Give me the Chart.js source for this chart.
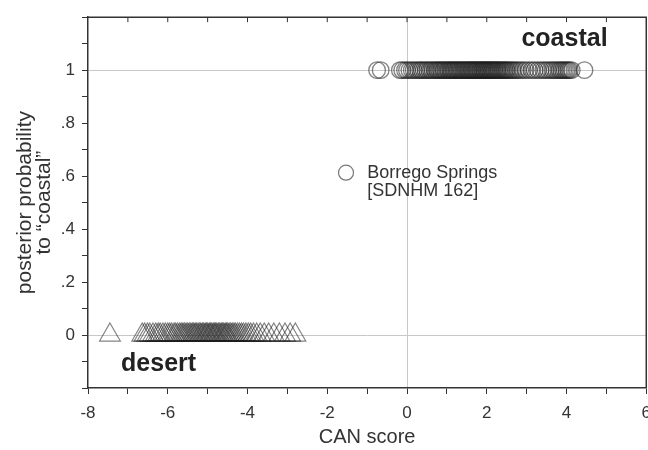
<!DOCTYPE html>
<html>
<head>
<meta charset="utf-8">
<script src="https://cdn.jsdelivr.net/npm/chart.js@4.4.1/dist/chart.umd.min.js"></script>
<style>
  body { margin: 0; overflow: hidden; background: #fff; }
  canvas { display: block; }
</style>
</head>
<body>
<canvas id="chart" width="660" height="450"></canvas>
<script>
// CAN scores (dense runs estimated)
var coastalX = [-0.75, -0.66,
  -0.18, -0.12, -0.05, 0.0, 0.06, 0.12, 0.17, 0.23, 0.28, 0.33, 0.37, 0.42, 0.47, 0.51,
  0.56, 0.6, 0.64, 0.69, 0.72, 0.76, 0.79, 0.83, 0.86, 0.9, 0.93, 0.96, 1.0, 1.03,
  1.06, 1.09, 1.12, 1.15, 1.18, 1.21, 1.24, 1.27, 1.3, 1.33, 1.36, 1.39, 1.42, 1.45,
  1.48, 1.51, 1.54, 1.56, 1.59, 1.62, 1.64, 1.67, 1.7, 1.72, 1.75, 1.77, 1.8, 1.83,
  1.85, 1.88, 1.9, 1.93, 1.95, 1.98, 2.0, 2.03, 2.05, 2.08, 2.1, 2.13, 2.15, 2.18,
  2.2, 2.23, 2.26, 2.28, 2.31, 2.34, 2.37, 2.4, 2.43, 2.46, 2.49, 2.52, 2.56, 2.6,
  2.64, 2.68, 2.73, 2.78, 2.84, 2.9, 2.97, 3.05, 3.13, 3.2, 3.28, 3.35, 3.42, 3.48,
  3.54, 3.6, 3.65, 3.7, 3.75, 3.8, 3.84, 3.88, 3.92, 3.96, 4.0, 4.04, 4.08, 4.13,
  4.45];
var coastalP = 1;

var desertX = [-7.45,
  -6.64, -6.58, -6.51, -6.45, -6.37, -6.3, -6.24, -6.19, -6.12, -6.06, -6.0, -5.95,
  -5.9, -5.84, -5.8, -5.75, -5.7, -5.66, -5.62, -5.58, -5.54, -5.5, -5.46, -5.42,
  -5.38, -5.35, -5.31, -5.28, -5.24, -5.2, -5.17, -5.13, -5.1, -5.06, -5.03, -5.0,
  -4.96, -4.93, -4.9, -4.86, -4.83, -4.8, -4.77, -4.73, -4.7, -4.66, -4.63, -4.6,
  -4.56, -4.53, -4.5, -4.46, -4.42, -4.38, -4.34, -4.3, -4.25, -4.2, -4.15, -4.1,
  -4.04, -3.98, -3.92, -3.85, -3.77, -3.68, -3.58, -3.47, -3.34, -3.2, -3.06, -2.93,
  -2.8];
var desertP = 0;

var borregoX = [-1.53];
var borregoP = [0.613];

var xTickLabels = ['-8', '-6', '-4', '-2', '0', '2', '4', '6'];
var yTickLabels = ['0', '.2', '.4', '.6', '.8', '1'];

var ink = '#333';
var markStroke = 'rgba(30,30,30,0.55)';
var gridGray = '#c8c8c8';
var fontFam = '"Liberation Sans", Arial, sans-serif';

function isNear(a, b) { return Math.abs(a - b) < 1e-6; }

var extras = {
  id: 'extras',
  afterDraw: function (chart) {
    var c = chart.ctx, a = chart.chartArea;
    var xs = chart.scales.x, ys = chart.scales.y;
    c.save();
    // top and right frame
    c.strokeStyle = ink;
    c.lineWidth = 1.5;
    c.beginPath();
    c.moveTo(a.left, a.top);
    c.lineTo(a.right, a.top);
    c.lineTo(a.right, a.bottom);
    c.stroke();
    // inward ticks on top
    c.lineWidth = 1;
    for (var v = -7; v <= 5; v++) {
      var px = xs.getPixelForValue(v);
      c.beginPath();
      c.moveTo(px, a.top);
      c.lineTo(px, a.top + 5);
      c.stroke();
    }
    // group labels
    c.fillStyle = '#222';
    c.font = 'bold 25px ' + fontFam;
    c.textAlign = 'center';
    c.textBaseline = 'middle';
    c.fillText('coastal', xs.getPixelForValue(3.95), ys.getPixelForValue(1.117));
    c.fillText('desert', xs.getPixelForValue(-6.23), ys.getPixelForValue(-0.109));
    // specimen label
    c.fillStyle = ink;
    c.font = '18px ' + fontFam;
    c.textAlign = 'left';
    var lx = xs.getPixelForValue(-1.0), ly = ys.getPixelForValue(borregoP[0]);
    c.fillText('Borrego Springs', lx, ly);
    c.fillText('[SDNHM 162]', lx, ly + 18);
    c.restore();
  }
};

var chart = document.getElementById('chart');
var ctx = new Chart(chart, {
  type: 'scatter',
  data: {
    datasets: [{
      label: 'coastal',
      data: coastalX.map(function (x) { return { x: x, y: coastalP }; }),
      pointStyle: 'circle',
      pointRadius: 8.3,
      backgroundColor: 'rgba(0,0,0,0)',
      borderColor: markStroke,
      borderWidth: 1.3
    }, {
      label: 'desert',
      data: desertX.map(function (x) { return { x: x, y: desertP }; }),
      pointStyle: 'triangle',
      pointRadius: 12,
      backgroundColor: 'rgba(0,0,0,0)',
      borderColor: markStroke,
      borderWidth: 1.2
    }, {
      label: 'Borrego Springs',
      data: borregoX.map(function (x, i) { return { x: x, y: borregoP[i] }; }),
      pointStyle: 'circle',
      pointRadius: 7.5,
      backgroundColor: 'rgba(0,0,0,0)',
      borderColor: 'rgba(30,30,30,0.6)',
      borderWidth: 1.2
    }]
  },
  options: {
    responsive: false,
    animation: false,
    layout: { padding: { top: 14, right: 13, left: 0, bottom: 0 } },
    plugins: { legend: { display: false }, tooltip: { enabled: false } },
    scales: {
      x: {
        min: -8, max: 6,
        afterFit: function (s) { s.height = 62; },
        border: { color: ink, width: 1.5 },
        grid: {
          color: function (c) { return c.tick && isNear(c.tick.value, 0) ? gridGray : 'rgba(0,0,0,0)'; },
          tickColor: ink, tickLength: 6, lineWidth: 1
        },
        ticks: {
          stepSize: 1, autoSkip: false, maxRotation: 0, padding: 9,
          color: ink, font: { family: fontFam, size: 17 },
          callback: function (v) {
            var r = Math.round(v);
            return r % 2 === 0 ? xTickLabels[(r + 8) / 2] : '';
          }
        },
        title: {
          display: true, text: 'CAN score', color: ink,
          font: { family: fontFam, size: 20, lineHeight: 1 },
          padding: { top: 0, bottom: 3 }
        }
      },
      y: {
        min: -0.2, max: 1.2,
        afterFit: function (s) { s.width = 88; },
        border: { color: ink, width: 1.5 },
        grid: {
          color: function (c) {
            return c.tick && (isNear(c.tick.value, 0) || isNear(c.tick.value, 1)) ? gridGray : 'rgba(0,0,0,0)';
          },
          tickColor: ink, tickLength: 6, lineWidth: 1
        },
        ticks: {
          stepSize: 0.1, autoSkip: false, padding: 7,
          color: ink, font: { family: fontFam, size: 17 },
          callback: function (v) {
            var r = Math.round(v * 10);
            return (r >= 0 && r <= 10 && r % 2 === 0) ? yTickLabels[r / 2] : '';
          }
        },
        title: {
          display: true, text: ['posterior probability', 'to \u201ccoastal\u201d'], color: ink,
          font: { family: fontFam, size: 21, lineHeight: 0.9 },
          padding: { top: 16, bottom: 0 }
        }
      }
    }
  },
  plugins: [extras]
});
</script>
</body>
</html>
